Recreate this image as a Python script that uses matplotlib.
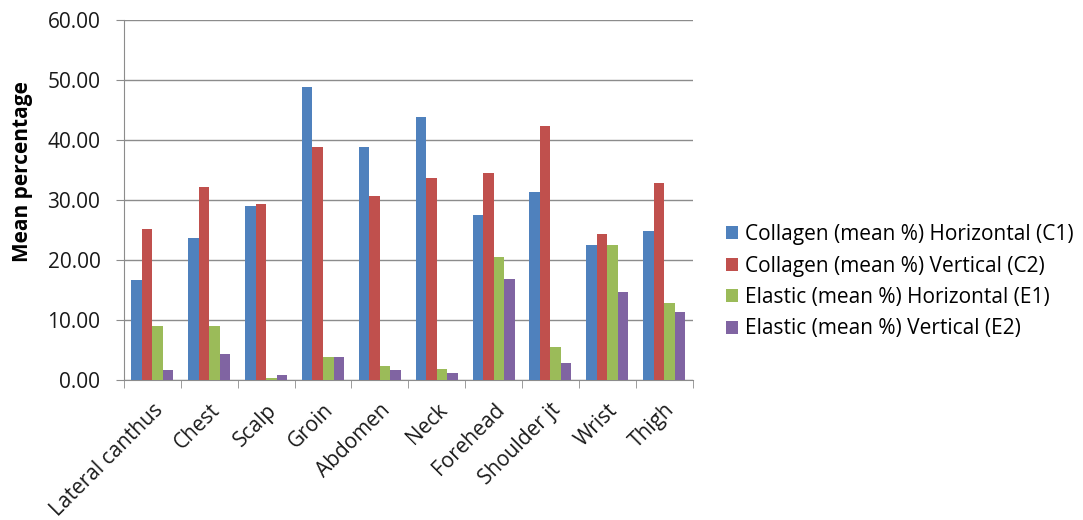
import numpy as np
import matplotlib.pyplot as plt
from matplotlib.ticker import FormatStrFormatter

plt.rcParams['font.family'] = ['Open Sans', 'DejaVu Sans']

sites = ["Lateral canthus", "Chest", "Scalp", "Groin", "Abdomen", "Neck",
         "Forehead", "Shoulder jt", "Wrist", "Thigh"]
c1 = [16.7, 23.7, 29.0, 48.9, 38.9, 43.9, 27.5, 31.4, 22.5, 24.8]
c2 = [25.2, 32.2, 29.4, 38.9, 30.7, 33.6, 34.5, 42.4, 24.4, 32.9]
e1 = [9.1, 9.1, 0.4, 3.8, 2.3, 1.9, 20.5, 5.5, 22.5, 12.9]
e2 = [1.7, 4.4, 0.8, 3.8, 1.7, 1.2, 16.9, 2.8, 14.6, 11.4]

labels = ["Collagen (mean %) Horizontal (C1)",
          "Collagen (mean %) Vertical (C2)",
          "Elastic (mean %) Horizontal (E1)",
          "Elastic (mean %) Vertical (E2)"]
colors = ["#4F81BD", "#C0504D", "#9BBB59", "#8064A2"]

fig = plt.figure(figsize=(10.83, 5.2), dpi=100)
ax = fig.add_axes([0.1145, 0.269, 0.525, 0.6925])

x = np.arange(len(sites))
w = 0.185
for i, (vals, lab, col) in enumerate(zip([c1, c2, e1, e2], labels, colors)):
    ax.bar(x + (i - 1.5) * w, vals, w, color=col, label=lab, zorder=3)

ax.set_xlim(-0.5, len(sites) - 0.5)
ax.set_ylim(0, 60)
ax.set_yticks(np.arange(0, 61, 10))
ax.yaxis.set_major_formatter(FormatStrFormatter('%.2f'))
ax.grid(axis='y', color='#8c8c8c', linewidth=1, zorder=0)

ax.set_xticks(x)
ax.set_xticklabels(sites, rotation=45, ha='right', rotation_mode='anchor', fontsize=15,
                   color='#1a1a1a')
ax.set_xticks(np.arange(-0.5, len(sites)), minor=True)
ax.tick_params(axis='x', which='major', length=0, pad=14)
ax.tick_params(axis='x', which='minor', length=6, color='#8c8c8c', direction='out')
ax.tick_params(axis='y', length=6, color='#8c8c8c', labelsize=15, labelcolor='#1a1a1a', pad=11)

for s in ['top', 'right']:
    ax.spines[s].set_visible(False)
for s in ['left', 'bottom']:
    ax.spines[s].set_color('#8c8c8c')

ax.set_ylabel("Mean percentage", fontsize=15, fontweight='bold')
ax.yaxis.set_label_coords(-0.16, 0.579)

fig.legend(loc='center left', bbox_to_anchor=(0.653, 0.458), frameon=False,
           fontsize=15, handlelength=0.6, handleheight=0.6, handletextpad=0.3,
           labelspacing=0.5)

fig.savefig("out.png", dpi=100)
